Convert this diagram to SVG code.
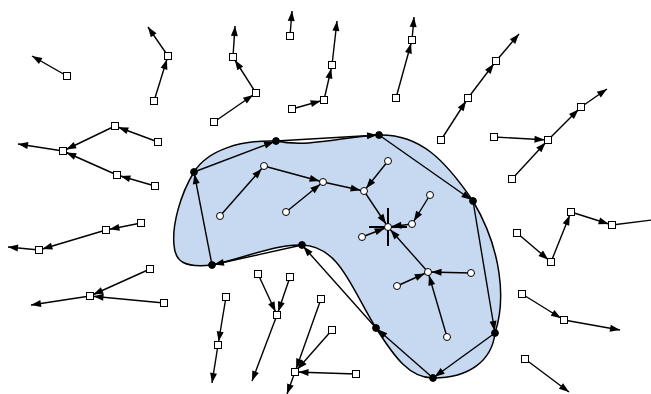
<svg xmlns="http://www.w3.org/2000/svg" width="651" height="394" viewBox="0 0 651 394">
<style>
.e{stroke:#000;stroke-width:1.4;fill:none;marker-end:url(#ah)}
.p{stroke:#000;stroke-width:1.4;fill:none;marker-end:url(#ab)}
.f{stroke:#000;stroke-width:1.4;fill:none;marker-end:url(#at)}
.sq{fill:#fff;stroke:#000;stroke-width:1}
.wc{fill:#fff;stroke:#000;stroke-width:1}
.bc{fill:#000;stroke:#000;stroke-width:1}
</style>
<defs>
<marker id="ah" markerUnits="userSpaceOnUse" markerWidth="10" markerHeight="7" viewBox="0 0 10 7" refX="13.5" refY="3.5" orient="auto" overflow="visible"><path d="M0,0 L10,3.5 L0,7 z" fill="#000"/></marker>
<marker id="ab" markerUnits="userSpaceOnUse" markerWidth="10" markerHeight="7" viewBox="0 0 10 7" refX="12" refY="3.5" orient="auto" overflow="visible"><path d="M0,0 L10,3.5 L0,7 z" fill="#000"/></marker>
<marker id="at" markerUnits="userSpaceOnUse" markerWidth="10" markerHeight="7" viewBox="0 0 10 7" refX="10" refY="3.5" orient="auto" overflow="visible"><path d="M0,0 L10,3.5 L0,7 z" fill="#000"/></marker>
</defs>
<rect width="651" height="394" fill="#fff"/>
<path id="blob" d="M194,172 C180,195 172,225 174,245 C175,262 185,268 212,265 C245,258 275,244 302,245 C340,246 352,290 376,328 C395,358 410,378 433,378 C470,378 492,360 495,333 C506,300 502,250 473,201 C445,160 420,134 379,135 C345,136 310,148 276,141 C240,140 208,150 194,172 Z" fill="#c6d9f1" stroke="#000" stroke-width="1.5"/>
<g id="connectors">
<line class="f" x1="67" y1="76" x2="32" y2="56"/>
<line class="e" x1="154" y1="101" x2="168" y2="56"/>
<line class="f" x1="168" y1="56" x2="148" y2="27"/>
<line class="e" x1="158" y1="142" x2="115" y2="126"/>
<line class="e" x1="115" y1="126" x2="63" y2="151"/>
<line class="f" x1="63" y1="151" x2="18" y2="144"/>
<line class="e" x1="155" y1="186" x2="117" y2="175"/>
<line class="e" x1="117" y1="175" x2="63" y2="151"/>
<line class="f" x1="290" y1="36" x2="292" y2="11"/>
<line class="e" x1="214" y1="122" x2="256" y2="93"/>
<line class="e" x1="256" y1="93" x2="233" y2="57"/>
<line class="f" x1="233" y1="57" x2="235" y2="26"/>
<line class="e" x1="292" y1="109" x2="324" y2="100"/>
<line class="e" x1="324" y1="100" x2="332" y2="65"/>
<line class="f" x1="332" y1="65" x2="337" y2="21"/>
<line class="e" x1="396" y1="98" x2="412" y2="40"/>
<line class="f" x1="412" y1="40" x2="414" y2="17"/>
<line class="e" x1="441" y1="140" x2="468" y2="98"/>
<line class="e" x1="468" y1="98" x2="496" y2="61"/>
<line class="f" x1="496" y1="61" x2="519" y2="34"/>
<line class="e" x1="494" y1="137" x2="548" y2="140"/>
<line class="e" x1="512" y1="179" x2="548" y2="140"/>
<line class="e" x1="548" y1="140" x2="581" y2="107"/>
<line class="f" x1="581" y1="107" x2="607" y2="89"/>
<line class="e" x1="141" y1="223" x2="106" y2="230"/>
<line class="e" x1="106" y1="230" x2="39" y2="250"/>
<line class="f" x1="39" y1="250" x2="8" y2="247"/>
<line class="e" x1="150" y1="269" x2="90" y2="296"/>
<line class="e" x1="164" y1="303" x2="90" y2="296"/>
<line class="f" x1="90" y1="296" x2="31" y2="305"/>
<line class="e" x1="226" y1="297" x2="218" y2="345"/>
<line class="f" x1="218" y1="345" x2="212" y2="383"/>
<line class="e" x1="258" y1="274" x2="277" y2="315"/>
<line class="e" x1="290" y1="277" x2="277" y2="315"/>
<line class="f" x1="277" y1="315" x2="252" y2="381"/>
<line class="e" x1="321" y1="299" x2="295" y2="372"/>
<line class="e" x1="332" y1="330" x2="295" y2="372"/>
<line class="e" x1="356" y1="374" x2="295" y2="372"/>
<line class="f" x1="295" y1="372" x2="287" y2="394"/>
<line class="e" x1="517" y1="233" x2="551" y2="262"/>
<line class="e" x1="551" y1="262" x2="571" y2="212"/>
<line class="e" x1="571" y1="212" x2="612" y2="225"/>
<line stroke="#000" stroke-width="1.4" x1="612" y1="225" x2="652" y2="220"/>
<line class="e" x1="522" y1="294" x2="564" y2="320"/>
<line class="f" x1="564" y1="320" x2="620" y2="330"/>
<line class="f" x1="525" y1="359" x2="569" y2="392"/>
<line class="e" x1="220" y1="216" x2="264" y2="166"/>
<line class="e" x1="264" y1="166" x2="323" y2="182"/>
<line class="e" x1="286" y1="212" x2="323" y2="182"/>
<line class="e" x1="323" y1="182" x2="364" y2="191"/>
<line class="e" x1="388" y1="161" x2="364" y2="191"/>
<line class="e" x1="364" y1="191" x2="388" y2="227"/>
<line class="e" x1="430" y1="195" x2="412" y2="224"/>
<line class="e" x1="412" y1="224" x2="388" y2="227"/>
<line class="e" x1="362" y1="237" x2="388" y2="227"/>
<line class="e" x1="428" y1="272" x2="388" y2="227"/>
<line class="e" x1="471" y1="273" x2="428" y2="272"/>
<line class="e" x1="397" y1="286" x2="428" y2="272"/>
<line class="e" x1="447" y1="337" x2="428" y2="272"/>
<line class="p" x1="194" y1="172" x2="276" y2="141"/>
<line class="p" x1="276" y1="141" x2="379" y2="135"/>
<line class="p" x1="379" y1="135" x2="473" y2="201"/>
<line class="p" x1="473" y1="201" x2="495" y2="333"/>
<line class="p" x1="495" y1="333" x2="433" y2="378"/>
<line class="p" x1="433" y1="378" x2="376" y2="328"/>
<line class="p" x1="376" y1="328" x2="302" y2="245"/>
<line class="p" x1="302" y1="245" x2="212" y2="265"/>
<line class="p" x1="212" y1="265" x2="194" y2="172"/>
<path d="M388,208 V246 M369,227 H407" stroke="#000" stroke-width="2" fill="none"/>
</g>
<g id="pA"><circle class="bc" cx="276" cy="141" r="3.4"/></g>
<g id="pB"><circle class="bc" cx="379" cy="135" r="3.4"/></g>
<g id="pC"><circle class="bc" cx="473" cy="201" r="3.4"/></g>
<g id="pD"><circle class="bc" cx="495" cy="333" r="3.4"/></g>
<g id="pE"><circle class="bc" cx="433" cy="378" r="3.4"/></g>
<g id="pF"><circle class="bc" cx="376" cy="328" r="3.4"/></g>
<g id="pG"><circle class="bc" cx="302" cy="245" r="3.4"/></g>
<g id="pH"><circle class="bc" cx="212" cy="265" r="3.4"/></g>
<g id="pI"><circle class="bc" cx="194" cy="172" r="3.4"/></g>
<g id="n1"><circle class="wc" cx="220" cy="216" r="3.5"/></g>
<g id="n2"><circle class="wc" cx="264" cy="166" r="3.5"/></g>
<g id="n3"><circle class="wc" cx="323" cy="182" r="3.5"/></g>
<g id="n4"><circle class="wc" cx="286" cy="212" r="3.5"/></g>
<g id="n5"><circle class="wc" cx="364" cy="191" r="3.5"/></g>
<g id="n6"><circle class="wc" cx="388" cy="161" r="3.5"/></g>
<g id="n7"><circle class="wc" cx="388" cy="227" r="3.5"/></g>
<g id="n8"><circle class="wc" cx="412" cy="224" r="3.5"/></g>
<g id="n9"><circle class="wc" cx="430" cy="195" r="3.5"/></g>
<g id="n10"><circle class="wc" cx="362" cy="237" r="3.5"/></g>
<g id="n11"><circle class="wc" cx="428" cy="272" r="3.5"/></g>
<g id="n12"><circle class="wc" cx="471" cy="273" r="3.5"/></g>
<g id="n13"><circle class="wc" cx="397" cy="286" r="3.5"/></g>
<g id="n14"><circle class="wc" cx="447" cy="337" r="3.5"/></g>
<g id="s1"><rect class="sq" x="63.5" y="72.5" width="7" height="7"/></g>
<g id="s2"><rect class="sq" x="150.5" y="97.5" width="7" height="7"/></g>
<g id="s3"><rect class="sq" x="164.5" y="52.5" width="7" height="7"/></g>
<g id="s4"><rect class="sq" x="154.5" y="138.5" width="7" height="7"/></g>
<g id="s5"><rect class="sq" x="111.5" y="122.5" width="7" height="7"/></g>
<g id="s6"><rect class="sq" x="59.5" y="147.5" width="7" height="7"/></g>
<g id="s7"><rect class="sq" x="151.5" y="182.5" width="7" height="7"/></g>
<g id="s8"><rect class="sq" x="113.5" y="171.5" width="7" height="7"/></g>
<g id="s9"><rect class="sq" x="286.5" y="32.5" width="7" height="7"/></g>
<g id="s10"><rect class="sq" x="210.5" y="118.5" width="7" height="7"/></g>
<g id="s11"><rect class="sq" x="252.5" y="89.5" width="7" height="7"/></g>
<g id="s12"><rect class="sq" x="229.5" y="53.5" width="7" height="7"/></g>
<g id="s13"><rect class="sq" x="288.5" y="105.5" width="7" height="7"/></g>
<g id="s14"><rect class="sq" x="320.5" y="96.5" width="7" height="7"/></g>
<g id="s15"><rect class="sq" x="328.5" y="61.5" width="7" height="7"/></g>
<g id="s16"><rect class="sq" x="392.5" y="94.5" width="7" height="7"/></g>
<g id="s17"><rect class="sq" x="408.5" y="36.5" width="7" height="7"/></g>
<g id="s18"><rect class="sq" x="437.5" y="136.5" width="7" height="7"/></g>
<g id="s19"><rect class="sq" x="464.5" y="94.5" width="7" height="7"/></g>
<g id="s20"><rect class="sq" x="492.5" y="57.5" width="7" height="7"/></g>
<g id="s21"><rect class="sq" x="490.5" y="133.5" width="7" height="7"/></g>
<g id="s22"><rect class="sq" x="508.5" y="175.5" width="7" height="7"/></g>
<g id="s23"><rect class="sq" x="544.5" y="136.5" width="7" height="7"/></g>
<g id="s24"><rect class="sq" x="577.5" y="103.5" width="7" height="7"/></g>
<g id="s25"><rect class="sq" x="137.5" y="219.5" width="7" height="7"/></g>
<g id="s26"><rect class="sq" x="102.5" y="226.5" width="7" height="7"/></g>
<g id="s27"><rect class="sq" x="35.5" y="246.5" width="7" height="7"/></g>
<g id="s28"><rect class="sq" x="146.5" y="265.5" width="7" height="7"/></g>
<g id="s29"><rect class="sq" x="160.5" y="299.5" width="7" height="7"/></g>
<g id="s30"><rect class="sq" x="86.5" y="292.5" width="7" height="7"/></g>
<g id="s31"><rect class="sq" x="222.5" y="293.5" width="7" height="7"/></g>
<g id="s32"><rect class="sq" x="214.5" y="341.5" width="7" height="7"/></g>
<g id="s33"><rect class="sq" x="254.5" y="270.5" width="7" height="7"/></g>
<g id="s34"><rect class="sq" x="286.5" y="273.5" width="7" height="7"/></g>
<g id="s35"><rect class="sq" x="273.5" y="311.5" width="7" height="7"/></g>
<g id="s36"><rect class="sq" x="317.5" y="295.5" width="7" height="7"/></g>
<g id="s37"><rect class="sq" x="328.5" y="326.5" width="7" height="7"/></g>
<g id="s38"><rect class="sq" x="352.5" y="370.5" width="7" height="7"/></g>
<g id="s39"><rect class="sq" x="291.5" y="368.5" width="7" height="7"/></g>
<g id="s40"><rect class="sq" x="513.5" y="229.5" width="7" height="7"/></g>
<g id="s41"><rect class="sq" x="547.5" y="258.5" width="7" height="7"/></g>
<g id="s42"><rect class="sq" x="567.5" y="208.5" width="7" height="7"/></g>
<g id="s43"><rect class="sq" x="608.5" y="221.5" width="7" height="7"/></g>
<g id="s44"><rect class="sq" x="518.5" y="290.5" width="7" height="7"/></g>
<g id="s45"><rect class="sq" x="560.5" y="316.5" width="7" height="7"/></g>
<g id="s46"><rect class="sq" x="521.5" y="355.5" width="7" height="7"/></g>
</svg>
